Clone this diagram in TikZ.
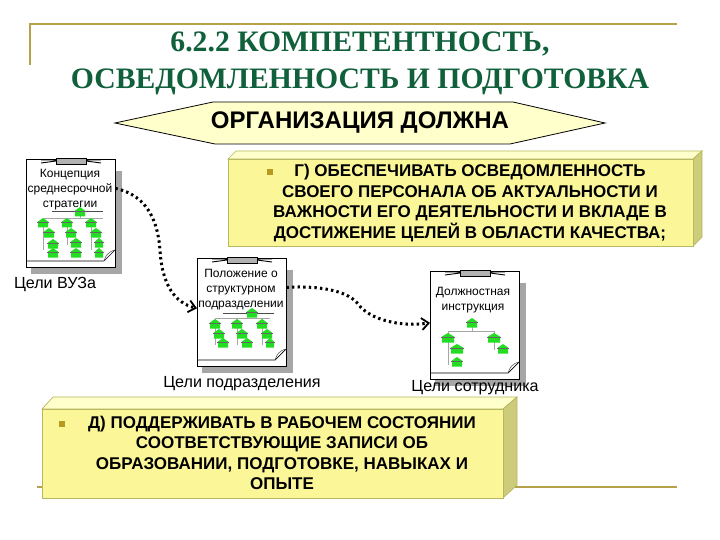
\documentclass[tikz,border=0pt]{standalone}
\usepackage{fontspec}
\setmainfont{Liberation Sans}
\newfontfamily\serifcyr{Liberation Serif}
\usetikzlibrary{arrows.meta}
\definecolor{framegold}{HTML}{B5A24A}
\definecolor{titlegreen}{HTML}{10603C}
\definecolor{boxfront}{HTML}{FBF799}
\definecolor{boxtop}{HTML}{FFFFCC}
\definecolor{boxside}{HTML}{CCCC7A}
\definecolor{boxedge}{HTML}{B8B860}
\definecolor{hexfill}{HTML}{FFFFCC}
\definecolor{bulletgold}{HTML}{B89A20}
\definecolor{docshadow}{HTML}{A6A6A6}
\definecolor{treegreen}{HTML}{22DD22}
\tikzset{
  x=1pt,y=-1pt,
  frameline/.style={draw=framegold,line width=2pt},
  titletext/.style={font=\serifcyr\bfseries\fontsize{29.7}{37}\selectfont,text=titlegreen,align=center,inner sep=0},
  boxface/.style={draw=boxedge,line width=.7pt,fill=boxfront,minimum width=#1,inner sep=0},
  boxlines/.style={font=\bfseries\fontsize{17}{20.6}\selectfont,align=center,inner sep=0},
  bullet/.style={fill=bulletgold,minimum size=6pt,inner sep=0},
  docpage/.style={draw=black,line width=.8pt,fill=white,minimum width=89pt,minimum height=108pt,inner sep=0},
  docanchor/.style={minimum width=89pt,minimum height=108pt,inner sep=0,anchor=north west},
  doctext/.style={font=\fontsize{12}{15}\selectfont,align=center,inner sep=0},
  doccaption/.style={font=\fontsize{16.1}{19}\selectfont,inner sep=0},
  dotflow/.style={line width=3pt,dash pattern=on 2.4pt off 3.2pt,-{Straight Barb[length=7pt,width=12pt,line width=1.8pt]}},
  treeline/.style={draw=black!35,line width=.4pt},
}
\newcommand{\treeitem}[3]{% x, y, half width
  \fill[treegreen] (#1-#3,#2-1.5) -- (#1,#2-5) -- (#1+#3,#2-1.5) -- (#1+#3,#2+4.5) -- (#1-#3,#2+4.5) -- cycle;
  \draw[black!60,line width=.3pt] (#1-#3-1,#2-.5) -- (#1+#3+1,#2-.5);
}
\newcommand{\docsheet}[2]{% left, top
  \fill[docshadow] (#1+5,#2+12) rectangle (#1+96,#2+115);
  \node[docpage,anchor=north west] at (#1,#2) {};
  \draw[black,line width=.7pt] (#1,#2+102) -- (#1+78,#2+102) -- (#1+89,#2+91);
  \draw[black!70,line width=.5pt] (#1+78,#2+102) .. controls (#1+80,#2+96) and (#1+82,#2+93) .. (#1+89,#2+91);
  \fill[black!30] (#1+30,#2-1) rectangle (#1+60,#2+5);
  \draw[black,line width=.5pt] (#1+30,#2-1) rectangle (#1+60,#2+5);
  \draw[black,line width=.9pt] (#1+15,#2+1) -- (#1+30,#2+1) (#1+15,#2+4) -- (#1+30,#2+2) (#1+60,#2+1) -- (#1+75,#2+1) (#1+60,#2+2) -- (#1+75,#2+4);
}
\begin{document}
\begin{tikzpicture}
\useasboundingbox (0,0) rectangle (720,540);
\fill[white] (0,0) rectangle (720,540);
% master frame
\coordinate (frameTL) at (30,24);
\coordinate (frameTR) at (677,24);
\coordinate (frameLB) at (30,65);
\coordinate (frameBL) at (37,487);
\coordinate (frameBR) at (677,487);
\draw[frameline] (frameLB) -- (frameTL) -- (frameTR);
\draw[frameline] (frameBL) -- (frameBR);
% title
\node[titletext] (title) at (360,63.5) {6.2.2 КОМПЕТЕНТНОСТЬ,\\ОСВЕДОМЛЕННОСТЬ И ПОДГОТОВКА};
% banner
\draw[black,line width=.8pt,fill=hexfill] (115,123) -- (213,102) -- (513,102) -- (605,123) -- (510,144) -- (215,144) -- cycle;
\node[font=\bfseries\fontsize{24}{28}\selectfont,inner sep=0] (banner) at (360,123) {ОРГАНИЗАЦИЯ ДОЛЖНА};
% box G
\draw[boxedge,line width=.7pt,fill=boxtop] (228,159) -- (236,151) -- (702,151) -- (693,159) -- cycle;
\draw[boxedge,line width=.7pt,fill=boxside] (693,159) -- (702,151) -- (702,237) -- (693,246) -- cycle;
\node[boxface=465pt,minimum height=87pt,anchor=north west] (boxG) at (228,159) {};
\node[bullet] (bulG) at (270,172) {};
\node[boxlines] (textG) at (470,203) {Г) ОБЕСПЕЧИВАТЬ ОСВЕДОМЛЕННОСТЬ\\СВОЕГО ПЕРСОНАЛА ОБ АКТУАЛЬНОСТИ И\\ВАЖНОСТИ ЕГО ДЕЯТЕЛЬНОСТИ И ВКЛАДЕ В\\ДОСТИЖЕНИЕ ЦЕЛЕЙ В ОБЛАСТИ КАЧЕСТВА;};
% documents
\docsheet{26}{159}
\node[docanchor] (doc1) at (26,159) {};
\docsheet{197}{258}
\node[docanchor] (doc2) at (197,258) {};
\docsheet{430}{271}
\node[docanchor] (doc3) at (430,271) {};
\node[doctext] (t1) at (70,190) {Концепция\\среднесрочной\\стратегии};
\node[doctext] (t2) at (241,289.5) {Положение о\\структурном\\подразделении};
\node[doctext] (t3) at (473,300) {Должностная\\инструкция};
% tree 1
\draw[treeline] (43,218) -- (103,218) (43,218) -- (43,250) (67,218) -- (67,245) (91,218) -- (91,250) (80,212) -- (80,218);
\draw[black!70,line width=.5pt] (52,211) -- (103,211);
\foreach \a/\b/\c in {80/212/5,43/223/5,67/223/5,91/223/5,49/233/5,71/233/5,96/233/5,53/244/5,76/243/5,99/243/4,53/253/5,76/253/5,99/253/4}{\treeitem{\a}{\b}{\c}}
% tree 2
\draw[treeline] (215,318) -- (270,318) (215,318) -- (215,345) (237,318) -- (237,345) (262,318) -- (262,345);
\draw[black!70,line width=.5pt] (223,313) -- (274,313);
\foreach \a/\b/\c in {252/313/5,215/324/5,237/324/5,262/324/5,219/334/5,242/334/5,267/334/5,223/343/5,247/343/5,270/343/4}{\treeitem{\a}{\b}{\c}}
% tree 3
\draw[treeline] (472,323) -- (472,331) (448,331) -- (494,331) (448,331) -- (448,365) (494,331) -- (494,350);
\foreach \a/\b/\c in {472/323/5,448/338/6,494/338/6,457/349/6,503/349/5,457/362/5}{\treeitem{\a}{\b}{\c}}
% captions
\node[doccaption] (c1) at (55,284) {Цели ВУЗа};
\node[doccaption] (c2) at (242,384) {Цели подразделения};
\node[doccaption] (c3) at (475,388) {Цели сотрудника};
% connectors
\draw[dotflow] (doc1.29) .. controls (150,196) and (158,225) .. (160,250) .. controls (162,285) and (175,303) .. (doc2.175);
\draw[dotflow] (doc2.29) .. controls (325,285) and (350,293) .. (358,304) .. controls (370,320) and (400,327) .. (doc3.177);
% box D
\draw[boxedge,line width=.7pt,fill=boxtop] (42,409) -- (53,397) -- (517,397) -- (503,409) -- cycle;
\draw[boxedge,line width=.7pt,fill=boxside] (503,409) -- (517,397) -- (517,485) -- (503,498) -- cycle;
\node[boxface=461pt,minimum height=89pt,anchor=north west] (boxD) at (42,409) {};
\node[bullet] (bulD) at (62,424) {};
\node[boxlines] (textD) at (282,453) {Д) ПОДДЕРЖИВАТЬ В РАБОЧЕМ СОСТОЯНИИ\\СООТВЕТСТВУЮЩИЕ ЗАПИСИ ОБ\\ОБРАЗОВАНИИ, ПОДГОТОВКЕ, НАВЫКАХ И\\ОПЫТЕ};
\end{tikzpicture}
\end{document}
